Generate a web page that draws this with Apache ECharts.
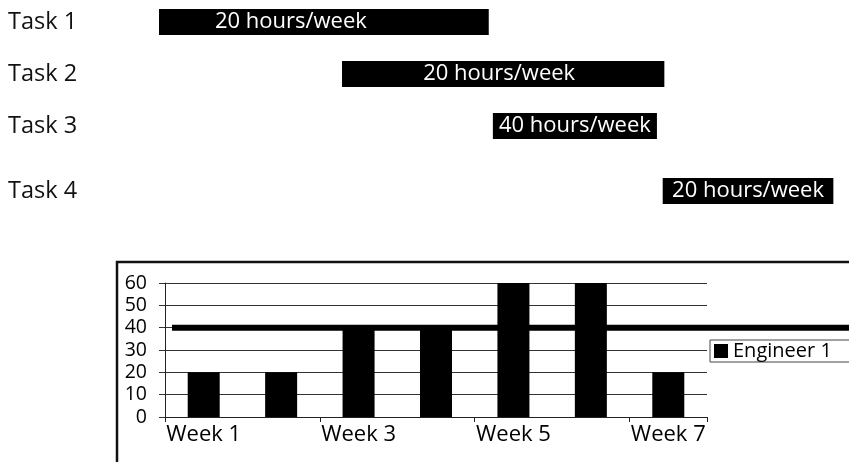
<!DOCTYPE html>
<html>
<head>
<meta charset="utf-8">
<style>
  html, body { margin: 0; padding: 0; background: #fff; }
  #chart { width: 849px; height: 462px; }
</style>
<script src="https://cdn.jsdelivr.net/npm/echarts@6/dist/echarts.min.js"></script>
</head>
<body>
<div id="chart"></div>
<script>
// Task schedule (timeline in weeks from project start)
const tasks = ['Task 1', 'Task 2', 'Task 3', 'Task 4'];
const taskStart = [0, 2.22, 4.05, 6.11];
const taskEnd = [4.0, 6.13, 6.04, 8.18];
const taskHours = [20, 20, 40, 20];

// Weekly load for the engineer
const weeks = ['Week 1', 'Week 2', 'Week 3', 'Week 4', 'Week 5', 'Week 6', 'Week 7'];
const engineerLoad = [20, 20, 40, 40, 60, 60, 20];
const capacity = 40;
const loadTicks = [0, 10, 20, 30, 40, 50, 60];

// Layout helpers for the schedule rows
const laneOf = [0, 1, 2, 3.25];
const labelShift = [-33, -4, 0, 0];

const FONT = '"Open Sans", "Noto Sans", sans-serif';

const chart = echarts.init(document.getElementById('chart'), null, { renderer: 'canvas' });

const ganttData = tasks.map((t, i) => [taskStart[i], taskEnd[i], laneOf[i], taskHours[i], i]);

chart.setOption({
  backgroundColor: '#fff',
  animation: false,
  textStyle: { fontFamily: FONT },
  grid: [
    { left: 159, right: 14, top: 22, height: 169 },
    { left: 165, right: 142, top: 283, bottom: 45 },
    { left: 172, right: 0, top: 283, bottom: 45 }
  ],
  xAxis: [
    { gridIndex: 0, type: 'value', min: 0, max: 8.2, show: false },
    {
      gridIndex: 1, type: 'category', data: weeks,
      axisLine: { lineStyle: { color: '#222', width: 1 } },
      axisTick: { show: true, length: 5, lineStyle: { color: '#222' } },
      axisLabel: { interval: 1, fontSize: 22, color: '#000', margin: 7, fontFamily: FONT }
    },
    { gridIndex: 2, type: 'value', min: 0, max: 1, show: false }
  ],
  yAxis: [
    {
      gridIndex: 0, type: 'value', inverse: true, min: 0, max: 3.25,
      axisLine: { show: false }, axisTick: { show: false }, splitLine: { show: false },
      axisLabel: {
        customValues: laneOf,
        formatter: v => tasks[laneOf.indexOf(v)] || '',
        align: 'left', margin: 151, fontSize: 23.5, color: '#111', fontFamily: FONT,
        padding: [10, 0, 0, 0]
      }
    },
    {
      gridIndex: 1, type: 'value', min: loadTicks[0], max: loadTicks[loadTicks.length - 1], interval: 10,
      axisLine: { show: true, lineStyle: { color: '#222', width: 1 } },
      axisTick: { show: true, length: 6, lineStyle: { color: '#333' } },
      splitLine: { show: true, lineStyle: { color: '#333', width: 1 } },
      axisLabel: { fontSize: 19.5, color: '#000', margin: 18, fontFamily: FONT }
    },
    { gridIndex: 2, type: 'value', min: 0, max: 60, show: false }
  ],
  legend: {
    data: ['Engineer 1'],
    left: 710, top: 340,
    icon: 'rect', itemWidth: 14, itemHeight: 14,
    borderColor: '#444', borderWidth: 1,
    padding: [1, 40, 1, 4],
    textStyle: { fontSize: 20, color: '#000', fontFamily: FONT },
    selectedMode: false
  },
  graphic: [
    {
      type: 'rect', z: -1, silent: true,
      shape: { x: 117, y: 262, width: 760, height: 260 },
      style: { fill: null, stroke: '#111', lineWidth: 2.5 }
    }
  ],
  series: [
    {
      type: 'custom',
      xAxisIndex: 0, yAxisIndex: 0,
      data: ganttData,
      renderItem(params, api) {
        const idx = api.value(4);
        const y = api.coord([0, api.value(2)])[1];
        const x0 = api.coord([api.value(0), 0])[0];
        const x1 = api.coord([api.value(1), 0])[0];
        const h = 26;
        return {
          type: 'rect',
          shape: { x: x0, y: y - h / 2, width: x1 - x0, height: h },
          style: { fill: '#000' },
          textContent: {
            style: {
              text: api.value(3) + ' hours/week',
              fill: '#fff', fontSize: 22, fontFamily: FONT
            }
          },
          textConfig: { position: 'inside', offset: [labelShift[idx], 0] }
        };
      }
    },
    {
      name: 'Engineer 1',
      type: 'bar',
      xAxisIndex: 1, yAxisIndex: 1,
      data: engineerLoad,
      barWidth: 32,
      itemStyle: { color: '#000' }
    },
    {
      name: 'Capacity',
      type: 'line',
      xAxisIndex: 2, yAxisIndex: 2,
      data: [[0, capacity], [1, capacity]],
      symbol: 'none',
      z: 5,
      lineStyle: { color: '#000', width: 6, cap: 'butt' }
    }
  ]
});
</script>
</body>
</html>
